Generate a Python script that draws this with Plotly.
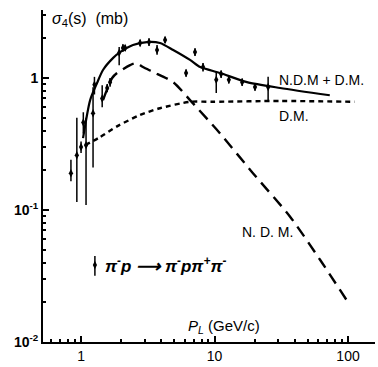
import plotly.graph_objects as go

# ---- data ----
pt_x = [0.84, 0.93, 1.0, 1.04, 1.09, 1.23, 1.26, 1.44, 1.57, 1.65, 1.93, 2.06, 2.14,
        2.77, 3.23, 3.71, 4.26, 6.12, 7.14, 8.2, 10.3, 11.2, 12.8, 16.1, 20.1, 25.2]
pt_y = [0.19, 0.26, 0.30, 0.46, 0.31, 0.54, 0.89, 0.70, 0.84, 0.93, 1.55, 1.69, 1.69,
        1.84, 1.87, 1.63, 1.94, 1.09, 1.57, 1.21, 0.97, 1.07, 0.97, 0.93, 0.855, 0.855]
pt_hi = [0.24, 0.50, 0.33, 0.55, 0.50, 0.85, 1.02, 0.88, 0.90, 1.00, 1.72, 1.80, 1.78,
         1.95, 2.00, 1.78, 2.05, 1.16, 1.68, 1.30, 1.11, 1.14, 1.03, 0.99, 0.91, 1.02]
pt_lo = [0.165, 0.115, 0.27, 0.38, 0.109, 0.21, 0.75, 0.60, 0.78, 0.86, 1.25, 1.58, 1.60,
         1.74, 1.75, 1.50, 1.84, 1.02, 1.47, 1.12, 0.77, 1.00, 0.91, 0.87, 0.80, 0.68]

sum_x = [1.035, 1.17, 1.32, 1.46, 1.74, 1.96, 2.45, 3.12, 3.9, 4.9, 6.55, 7.8, 11.0, 17.5, 31, 73]
sum_y = [0.35, 0.68, 0.92, 1.15, 1.42, 1.57, 1.78, 1.87, 1.84, 1.63, 1.37, 1.21, 1.09, 0.93, 0.84, 0.74]

dm_x = [1.07, 1.39, 1.86, 2.77, 3.9, 6.55, 9.7, 31, 112]
dm_y = [0.31, 0.357, 0.43, 0.525, 0.59, 0.66, 0.66, 0.67, 0.66]

ndm_x = [1.46, 1.71, 1.86, 2.33, 2.58, 2.91, 3.46, 4.9, 6.55, 11.0, 19.4, 36.8, 61.7, 100]
ndm_y = [0.68, 1.0, 1.09, 1.25, 1.30, 1.21, 1.11, 0.93, 0.68, 0.38, 0.19, 0.089, 0.042, 0.020]

key_x = [1.27]
key_y = [0.0383]
key_err = [0.0065]

x_ticks = [1, 10, 100]
x_ticktext = ["1", "10", "100"]
y_ticks = [0.01, 0.1, 1]
y_ticktext = ["<b>10<sup>-2</sup></b>", "<b>10<sup>-1</sup></b>", "<b>1</b>"]

FONT = "Liberation Sans, Arial, sans-serif"
INK = "black"

fig = go.Figure()

fig.add_trace(go.Scatter(
    x=pt_x, y=pt_y, mode="markers",
    marker=dict(symbol="diamond-tall", size=6, color=INK),
    error_y=dict(type="data", symmetric=False,
                 array=[h - y for h, y in zip(pt_hi, pt_y)],
                 arrayminus=[y - l for l, y in zip(pt_lo, pt_y)],
                 color=INK, thickness=1.5, width=0),
    showlegend=False))

fig.add_trace(go.Scatter(x=sum_x, y=sum_y, mode="lines",
                         line=dict(color=INK, width=2.2, shape="spline", smoothing=0.7), showlegend=False))
fig.add_trace(go.Scatter(x=dm_x, y=dm_y, mode="lines",
                         line=dict(color=INK, width=2.4, dash="5px,4px", shape="spline", smoothing=0.7), showlegend=False))
fig.add_trace(go.Scatter(x=ndm_x, y=ndm_y, mode="lines",
                         line=dict(color=INK, width=2.4, dash="12px,7px", shape="spline", smoothing=0.7), showlegend=False))

fig.add_trace(go.Scatter(
    x=key_x, y=key_y, mode="markers",
    marker=dict(symbol="diamond-tall", size=6, color=INK),
    error_y=dict(type="data", array=key_err, color=INK, thickness=1.5, width=0),
    showlegend=False))

axis_common = dict(type="log", showgrid=False, zeroline=False, showline=True,
                   linecolor=INK, linewidth=2, ticks="inside", ticklen=6, tickwidth=1.5,
                   tickcolor=INK, tickfont=dict(family=FONT, size=14, color=INK))

fig.update_xaxes(range=[-0.285, 2.202], tickvals=x_ticks, ticktext=x_ticktext,
                 minor=dict(ticks="inside", ticklen=3, tickcolor=INK,
                            tickvals=[0.6, 0.7, 0.8, 0.9, 2, 3, 4, 5, 6, 7, 8, 9,
                                      20, 30, 40, 50, 60, 70, 80, 90]),
                 **axis_common)
fig.update_yaxes(range=[-2, 0.515], tickvals=y_ticks, ticktext=y_ticktext,
                 minor=dict(ticks="inside", ticklen=3, tickcolor=INK,
                            tickvals=[0.02, 0.03, 0.04, 0.05, 0.06, 0.07, 0.08, 0.09,
                                      0.2, 0.3, 0.4, 0.5, 0.6, 0.7, 0.8, 0.9, 2, 3]),
                 **axis_common)

def label(text, x, y, size=13):
    fig.add_annotation(text=text, x=x, y=y, xref="paper", yref="paper",
                       xanchor="left", yanchor="middle", showarrow=False,
                       font=dict(family=FONT, size=size, color=INK))

label("<i>σ</i><sub>4</sub>(s)  (mb)", 0.021, 0.97, size=16)
label("N.D.M + D.M.", 0.705, 0.789, size=14)
label("D.M.", 0.705, 0.681, size=14)
label("N. D. M.", 0.593, 0.331, size=14)
label("<b><i>π<sup>-</sup>p ⟶ π<sup>-</sup>pπ<sup>+</sup>π<sup>-</sup></i></b>", 0.181, 0.232, size=17)
label("<i>P<sub>L</sub></i> (GeV/c)", 0.431, 0.048, size=15)

fig.update_layout(width=378, height=367, margin=dict(l=43, r=3, t=10, b=25),
                  paper_bgcolor="white", plot_bgcolor="white")

fig.write_html("out.html")
